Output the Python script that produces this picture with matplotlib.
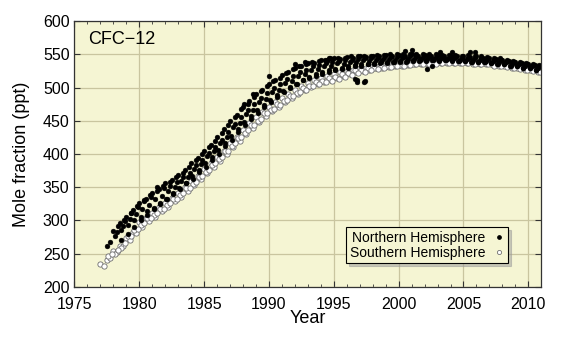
import numpy as np
import matplotlib
matplotlib.use("Agg")
import matplotlib.pyplot as plt
from matplotlib.ticker import MultipleLocator

plt.rcParams['font.family'] = ['Liberation Sans', 'DejaVu Sans']

# half-yearly samples, each record has its own start time
nh_a_start = 1977.5
nh_a = [262, 284, 296, 305, 316, 326, 332, 341, 347, 356, 361, 369, 376, 386, 394, 405,
        414, 426, 437, 450, 459, 471, 480, 491, 497, 506, 511, 519, 523, 530, 532, 537,
        537, 541, 541, 544, 543, 546, 545, 547, 546, 548, 547, 549, 548, 549, 548, 550,
        548, 549, 548, 549, 547, 548, 547, 548, 546, 547, 545, 545, 543, 542, 540, 539,
        537, 536, 534, 533]
nh_b_start = 1977.75
nh_b = [268, 283, 292, 302, 310, 318, 324, 332, 337, 345, 351, 360, 366, 378, 385, 397,
        404, 417, 426, 440, 447, 460, 466, 478, 483, 493, 497, 507, 510, 518, 520, 527,
        528, 533, 532, 537, 536, 539, 538, 541, 540, 542, 541, 543, 542, 544, 543, 545,
        543, 545, 543, 544, 543, 544, 542, 543, 541, 542, 540, 540, 538, 538, 535, 535,
        532, 532, 530]
nh_c_start = 1978.125
nh_c = [276, 286, 293, 301, 306, 314, 319, 327, 332, 341, 347, 356, 363, 373, 381, 391,
        400, 412, 421, 433, 443, 453, 462, 471, 479, 486, 494, 500, 506, 511, 516, 520,
        523, 526, 528, 530, 532, 534, 535, 536, 537, 538, 538, 539, 540, 540, 541, 541,
        541, 541, 541, 541, 541, 540, 540, 539, 539, 538, 537, 536, 535, 533, 532, 530,
        529, 527]
nh_d_start = 1978.375
nh_d = [291, 299, 311, 320, 329, 335, 344, 349, 352, 358, 365, 372, 383, 391, 402, 411,
        421, 433, 445, 456, 466, 476, 485, 492, 500, 506, 513, 518, 524, 527, 532, 534,
        537, 538, 540, 541, 542, 543, 544, 544, 545, 545, 546, 546, 546, 547, 547, 546,
        547, 546, 546, 545, 546, 545, 545, 544, 544, 543, 542, 541, 540, 538, 537, 535,
        534, 532]
nh_e_start = 1978.6
nh_e = [270, 280, 290, 301, 309, 318, 325, 333, 340, 349, 357, 367, 376, 386, 395, 406,
        416, 427, 437, 448, 457, 466, 474, 482, 489, 495, 501, 506, 511, 514, 518, 521,
        524, 526, 528, 530, 532, 533, 535, 536, 537, 537, 538, 539, 539, 540, 540, 540,
        541, 540, 541, 540, 540, 540, 539, 539, 538, 537, 536, 535, 533, 532, 530, 529,
        527]
nh_f_start = 1978.85
nh_f = [300, 312, 322, 331, 338, 350, 352, 358, 366, 372, 381, 391, 400, 411, 420, 432,
        444, 455, 467, 476, 486, 495, 502, 510, 515, 522, 528, 533, 535, 539, 540, 542,
        543, 545, 545, 547, 547, 548, 548, 549, 549, 550, 550, 550, 551, 551, 550, 550,
        550, 549, 549, 549, 548, 549, 548, 547, 546, 545, 544, 542, 540, 539, 537, 536,
        534]

# scattered northern samples
nh_extra_t = [1988.1, 1988.8, 1990.0, 1992.0, 1992.8, 1994.5, 1994.65, 1994.7, 1996.6,
              1996.8, 1996.8, 1997.3, 1997.4, 2000.5, 2001.0, 2002.2, 2002.6, 2003.2,
              2004.1, 2005.5, 2005.9]
nh_extra = [476, 491, 517, 535, 538, 540, 545, 544, 513, 511, 508, 508, 510, 555, 557,
            528, 532, 554, 554, 554, 553]

sh_a_start = 1977.0
sh_a = [234, 240, 254, 262, 273, 283, 297, 304, 312, 320, 327, 334, 342, 350, 359, 367,
        377, 386, 396, 405, 416, 426, 436, 446, 455, 463, 471, 478, 485, 491, 497, 502,
        507, 511, 514, 518, 520, 523, 525, 527, 529, 530, 532, 533, 534, 535, 536, 537,
        538, 538, 539, 539, 540, 540, 540, 540, 540, 539, 539, 538, 537, 536, 535, 533,
        532, 530, 529, 527, 526]
sh_b_start = 1977.25
sh_b = [231, 244, 252, 261, 270, 281, 290, 299, 306, 314, 321, 329, 336, 345, 353, 362,
        371, 381, 390, 400, 410, 420, 430, 439, 448, 457, 464, 471, 478, 485, 491, 496,
        501, 505, 509, 512, 515, 518, 521, 523, 525, 527, 529, 530, 531, 532, 533, 534,
        535, 536, 536, 537, 537, 537, 537, 537, 537, 536, 536, 535, 534, 533, 532, 530,
        529, 527, 526, 524]
sh_c_start = 1977.625
sh_c = [247, 250, 259, 276, 286, 293, 303, 308, 318, 323, 333, 338, 349, 355, 366, 373,
        384, 392, 404, 412, 424, 432, 443, 450, 461, 466, 475, 480, 488, 492, 499, 502,
        508, 510, 515, 516, 521, 522, 526, 526, 529, 530, 532, 532, 534, 534, 536, 536,
        537, 537, 538, 538, 539, 538, 539, 538, 538, 537, 537, 535, 535, 533, 532, 530,
        529, 527, 526]
sh_d_start = 1977.875
sh_d = [249, 256, 266, 277, 287, 296, 303, 311, 318, 326, 333, 341, 349, 358, 367, 376,
        386, 396, 405, 416, 425, 436, 444, 453, 461, 468, 474, 481, 487, 493, 497, 502,
        505, 508, 510, 513, 516, 519, 522, 524, 526, 528, 530, 531, 532, 533, 534, 535,
        535, 536, 536, 537, 537, 537, 537, 537, 536, 535, 535, 533, 532, 531, 530, 528,
        527, 525, 524]


def times(start, vals):
    return start + 0.5 * np.arange(len(vals))


fig = plt.figure(figsize=(5.68, 3.40), dpi=100)
ax = fig.add_axes([0.131, 0.156, 0.822, 0.782])
ax.set_facecolor('#f5f5d3')

sh_style = dict(ls='none', marker='o', ms=3.8, mfc='white', mec='#6e6e6e', mew=0.6)
nh_style = dict(ls='none', marker='o', ms=3.5, mfc='black', mec='black', mew=0.3)

for start, vals in [(sh_a_start, sh_a), (sh_b_start, sh_b), (sh_c_start, sh_c),
                    (sh_d_start, sh_d)]:
    ax.plot(times(start, vals), vals, **sh_style)
for start, vals in [(nh_a_start, nh_a), (nh_b_start, nh_b), (nh_c_start, nh_c),
                    (nh_d_start, nh_d), (nh_e_start, nh_e), (nh_f_start, nh_f)]:
    ax.plot(times(start, vals), vals, **nh_style)
ax.plot(nh_extra_t, nh_extra, **nh_style)

# legend handles
h_nh, = ax.plot([], [], ls='none', marker='o', ms=2.4, mfc='black', mec='black')
h_sh, = ax.plot([], [], ls='none', marker='o', ms=3.0, mfc='white', mec='#707070', mew=0.6)
leg = ax.legend([h_nh, h_sh], ['Northern Hemisphere', 'Southern Hemisphere'],
                loc='lower right', bbox_to_anchor=(0.929, 0.09), markerfirst=False,
                fontsize=10, frameon=True, fancybox=False, shadow={'color': '#9a9a9a'},
                handlelength=0.8, handletextpad=0.6, borderpad=0.25, labelspacing=0.05,
                borderaxespad=0.0)
leg.get_frame().set_facecolor('#f5f5d3')
leg.get_frame().set_edgecolor('black')
leg.get_frame().set_linewidth(0.8)
leg.get_frame().set_alpha(1)

ax.set_xlim(1975, 2011)
ax.set_ylim(200, 600)
ax.xaxis.set_major_locator(MultipleLocator(5))
ax.xaxis.set_minor_locator(MultipleLocator(1))
ax.yaxis.set_major_locator(MultipleLocator(50))
ax.grid(True, which='major', color='#c9c59f', lw=0.9)
ax.set_axisbelow(True)
ax.tick_params(which='both', direction='in', top=True, right=True, labelsize=11.5,
               color='#333333')
ax.tick_params(axis='x', pad=7)
ax.tick_params(which='major', length=4, width=0.8)
ax.tick_params(which='minor', length=2.5, width=0.6)
for s in ax.spines.values():
    s.set_color('#333333')
    s.set_linewidth(0.9)

ax.set_xlabel('Year', fontsize=13, labelpad=-1)
ax.set_ylabel('Mole fraction (ppt)', fontsize=13, labelpad=9)
ax.text(0.03, 0.93, 'CFC\u221212', transform=ax.transAxes, fontsize=13, va='center')

fig.savefig('out.png', dpi=100)
